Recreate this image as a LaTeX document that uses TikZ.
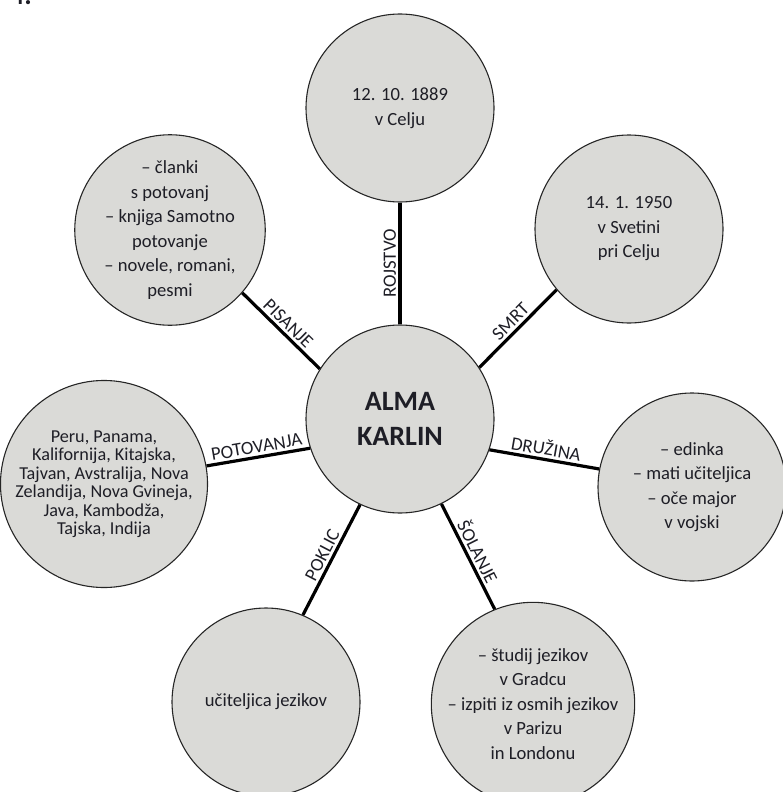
\documentclass[tikz,border=0pt]{standalone}
\usepackage{fontspec}
\setmainfont{Carlito}
\usepackage{tikz}
\definecolor{bubblegray}{RGB}{218,218,215}
\definecolor{inkgray}{RGB}{30,30,38}

\begin{document}
\begin{tikzpicture}[x=1pt,y=-1pt,text=inkgray,
    bubble/.style={circle,draw=black!85,line width=1.1pt,fill=bubblegray,minimum size=188pt,
                   inner sep=0pt,align=center,font=\fontsize{18.6}{24.5}\selectfont},
    link/.style={line width=3.2pt,draw=black},
    tag/.style={sloped,above,inner sep=2.5pt,font=\fontsize{18.8}{20}\selectfont}]
\useasboundingbox (0,0) rectangle (782,792);
\node[anchor=base west,inner sep=0pt,font=\bfseries\fontsize{28}{30}\selectfont] (num) at (10,5) {4.};
\node[bubble,font=\bfseries\fontsize{28}{35}\selectfont] (alma) at (400,419) {ALMA\\KARLIN};
\node[bubble] (rojstvo) at (400,108) {12. 10. 1889\\v Celju};
\node[bubble] (pisanje) at (170,230) {– članki\\s potovanj\\– knjiga Samotno\\potovanje\\– novele, romani,\\pesmi};
\node[bubble] (smrt) at (629,229) {14. 1. 1950\\v Svetini\\pri Celju};
\node[bubble,font=\fontsize{18.2}{18.5}\selectfont] (potovanja) at (104,484) {Peru, Panama,\\Kalifornija, Kitajska,\\Tajvan, Avstralija, Nova\\Zelandija, Nova Gvineja,\\Java, Kambodža,\\Tajska, Indija};
\node[bubble] (druzina) at (692,487) {– edinka\\– mati učiteljica\\– oče major\\v vojski};
\node[bubble] (poklic) at (266,702) {učiteljica jezikov};
\node[bubble] (solanje) at (533,704) {– študij jezikov\\v Gradcu\\– izpiti iz osmih jezikov\\v Parizu\\in Londonu};
\draw[link] (alma.90) -- node[tag]{ROJSTVO} (rojstvo.-90);
\draw[link] (pisanje.-41) -- node[tag]{PISANJE} (alma.148);
\draw[link] (alma.33) -- node[tag]{SMRT} (smrt.220);
\draw[link] (alma.-19) -- node[tag]{DRUŽINA} (druzina.169);
\draw[link] (alma.-64) -- node[tag]{ŠOLANJE} (solanje.112);
\draw[link] (poklic.67) -- node[tag]{POKLIC} (alma.245);
\draw[link] (potovanja.10) -- node[tag]{POTOVANJA} (alma.198);
\end{tikzpicture}
\end{document}
